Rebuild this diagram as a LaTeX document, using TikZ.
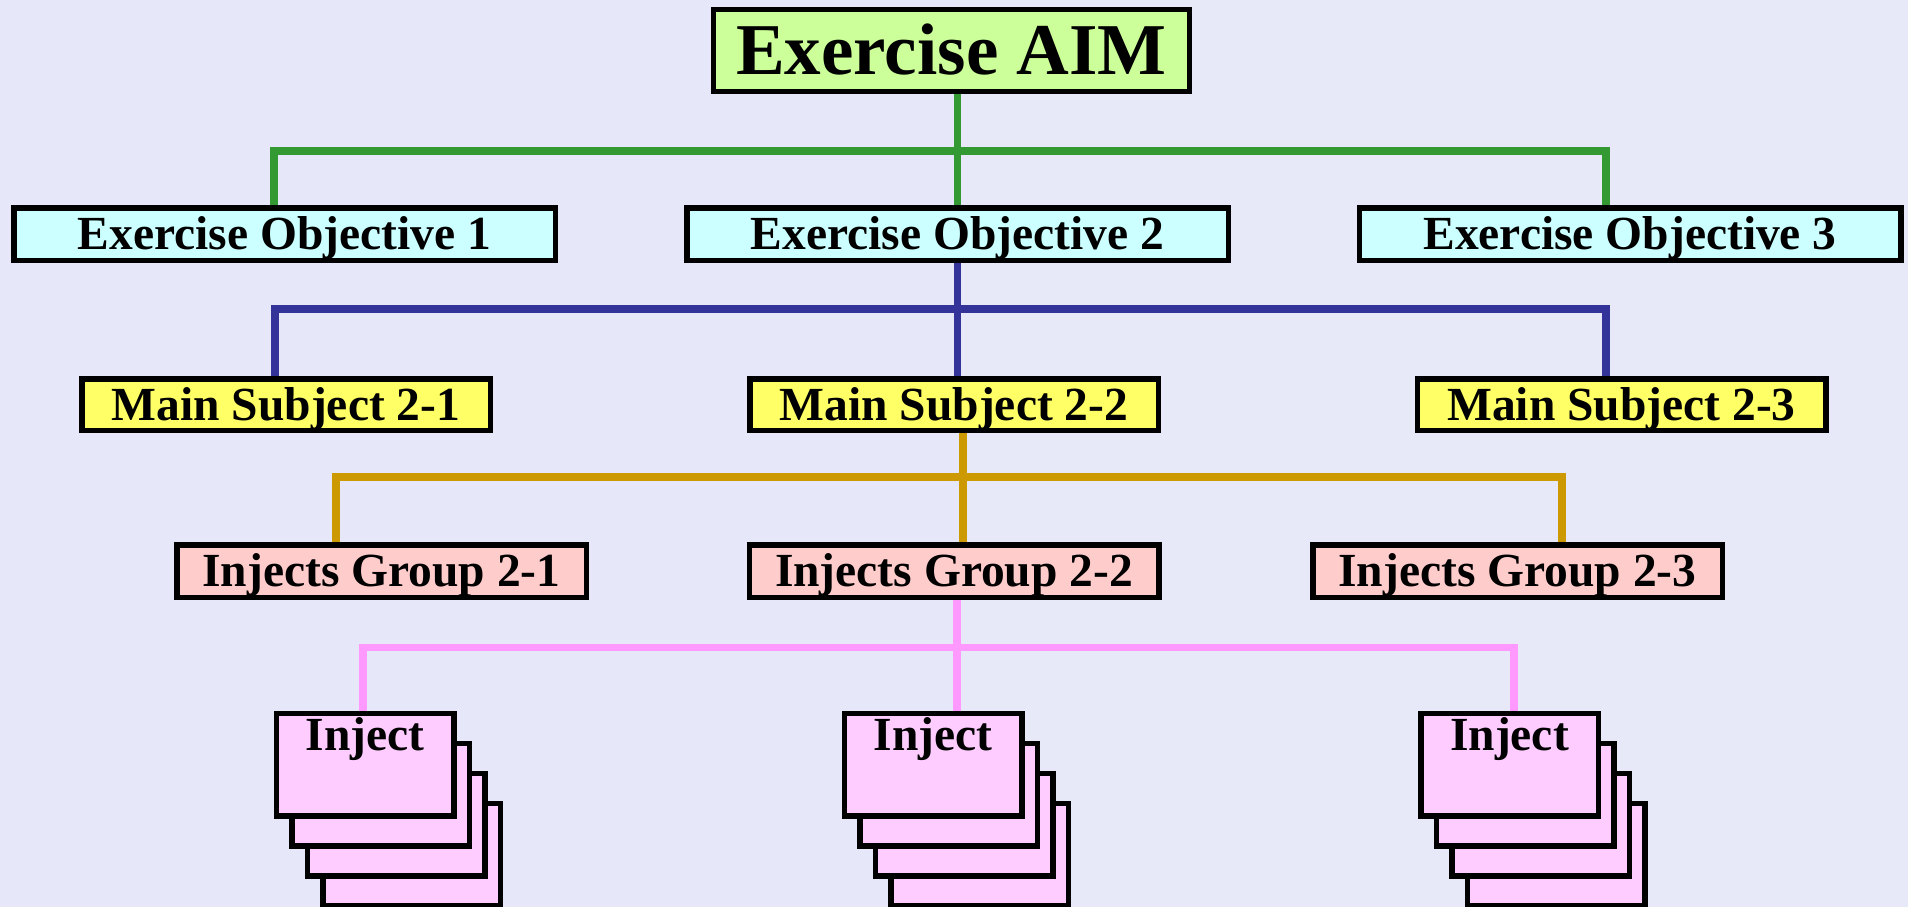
\documentclass[tikz,border=0pt]{standalone}
\usepackage{fontspec}
\setmainfont{Liberation Serif}
\begin{document}
\begin{tikzpicture}[x=1pt,y=-1pt,
  box/.style={draw=black, line width=5.5pt, inner sep=0pt, font=\bfseries\fontsize{47.5}{50}\selectfont, text height=31.4pt, text depth=0pt},
  aimbox/.style={box, line width=5pt, fill=aimfill, minimum width=476pt, minimum height=82pt, font=\bfseries\fontsize{73}{76}\selectfont, text height=48.3pt},
  objbox/.style={box, fill=objfill, minimum width=541.5pt, minimum height=52.5pt},
  msbox/.style={box, fill=msfill, minimum width=408.5pt, minimum height=51.5pt},
  igbox/.style={box, fill=igfill, minimum width=409.5pt, minimum height=52.5pt},
  injbox/.style={box, fill=injfill, minimum width=177.5pt, minimum height=102.5pt},
  injtext/.style={font=\bfseries\fontsize{47.5}{50}\selectfont, anchor=base, inner sep=0pt},
  conn/.style={line width=7.5pt, line join=miter},
  gline/.style={conn, draw=gcol},
  bline/.style={conn, draw=bcol},
  oline/.style={conn, draw=ocol},
  pline/.style={conn, draw=pcol}]
\definecolor{bgA}{HTML}{E6E7F9}
\definecolor{bgB}{HTML}{E4EEFA}
\definecolor{bgC}{HTML}{E7E8F8}
\definecolor{aimfill}{HTML}{CCFF99}
\definecolor{objfill}{HTML}{CCFFFF}
\definecolor{msfill}{HTML}{FFFF66}
\definecolor{igfill}{HTML}{FFCCCC}
\definecolor{injfill}{HTML}{FFCCFF}
\definecolor{gcol}{HTML}{339933}
\definecolor{bcol}{HTML}{333399}
\definecolor{ocol}{HTML}{CC9900}
\definecolor{pcol}{HTML}{FF99FF}

\shade[left color=bgA, middle color=bgB, right color=bgC] (0,0) rectangle (1908,907);
\useasboundingbox (0,0) rectangle (1908,907);

% nodes
\node[aimbox] (aim) at (951.5,50.5) {Exercise AIM};

\node[objbox] (o1) at (284.5,234) {Exercise Objective 1};
\node[objbox] (o2) at (957.5,234) {Exercise Objective 2};
\node[objbox] (o3) at (1630,234) {Exercise Objective 3};

\node[msbox] (m1) at (286,404.5) {Main Subject 2-1};
\node[msbox] (m2) at (954,404.5) {Main Subject 2-2};
\node[msbox] (m3) at (1621.5,404.5) {Main Subject 2-3};

\node[igbox] (g1) at (381.5,571) {Injects Group 2-1};
\node[igbox] (g2) at (954,571) {Injects Group 2-2};
\node[igbox] (g3) at (1517.5,571) {Injects Group 2-3};

% inject stacks
\foreach \n/\cx in {1/365, 2/933, 3/1509.5}{
  \node[injbox] (i\n c) at (\cx+46.5,764.5+90) {};
  \node[injbox] (i\n b) at (\cx+31,764.5+60) {};
  \node[injbox] (i\n a) at (\cx+15.5,764.5+30) {};
  \node[injbox] (i\n) at (\cx,764.5) {};
  \node[injtext] (t\n) at ([yshift=-39.5pt]i\n.north) {Inject};
}

% connectors
\coordinate (gL) at (274,151);  \coordinate (gR) at (1606,151);
\coordinate (bL) at (275,309);  \coordinate (bR) at (1606,309);
\coordinate (oL) at (336,477);  \coordinate (oR) at (1562,477);
\coordinate (pL) at (363,647.5); \coordinate (pR) at (1514,647.5);

\draw[gline] (gL |- o1.north) -- (gL) -- (gR) -- (gR |- o3.north);
\draw[gline] (o2.north |- aim.south) -- (o2.north);

\draw[bline] (bL |- m1.north) -- (bL) -- (bR) -- (bR |- m3.north);
\draw[bline] (o2.south) -- (o2.south |- m2.north);

\draw[oline] (oL |- g1.north) -- (oL) -- (oR) -- (oR |- g3.north);
\draw[oline] ([xshift=9pt]m2.south) -- ([xshift=9pt]g2.north);

\draw[pline] (pL |- i1.north) -- (pL) -- (pR) -- (pR |- i3.north);
\draw[pline] ([xshift=3pt]g2.south) -- ([xshift=3pt]g2.south |- i2.north);
\end{tikzpicture}
\end{document}
